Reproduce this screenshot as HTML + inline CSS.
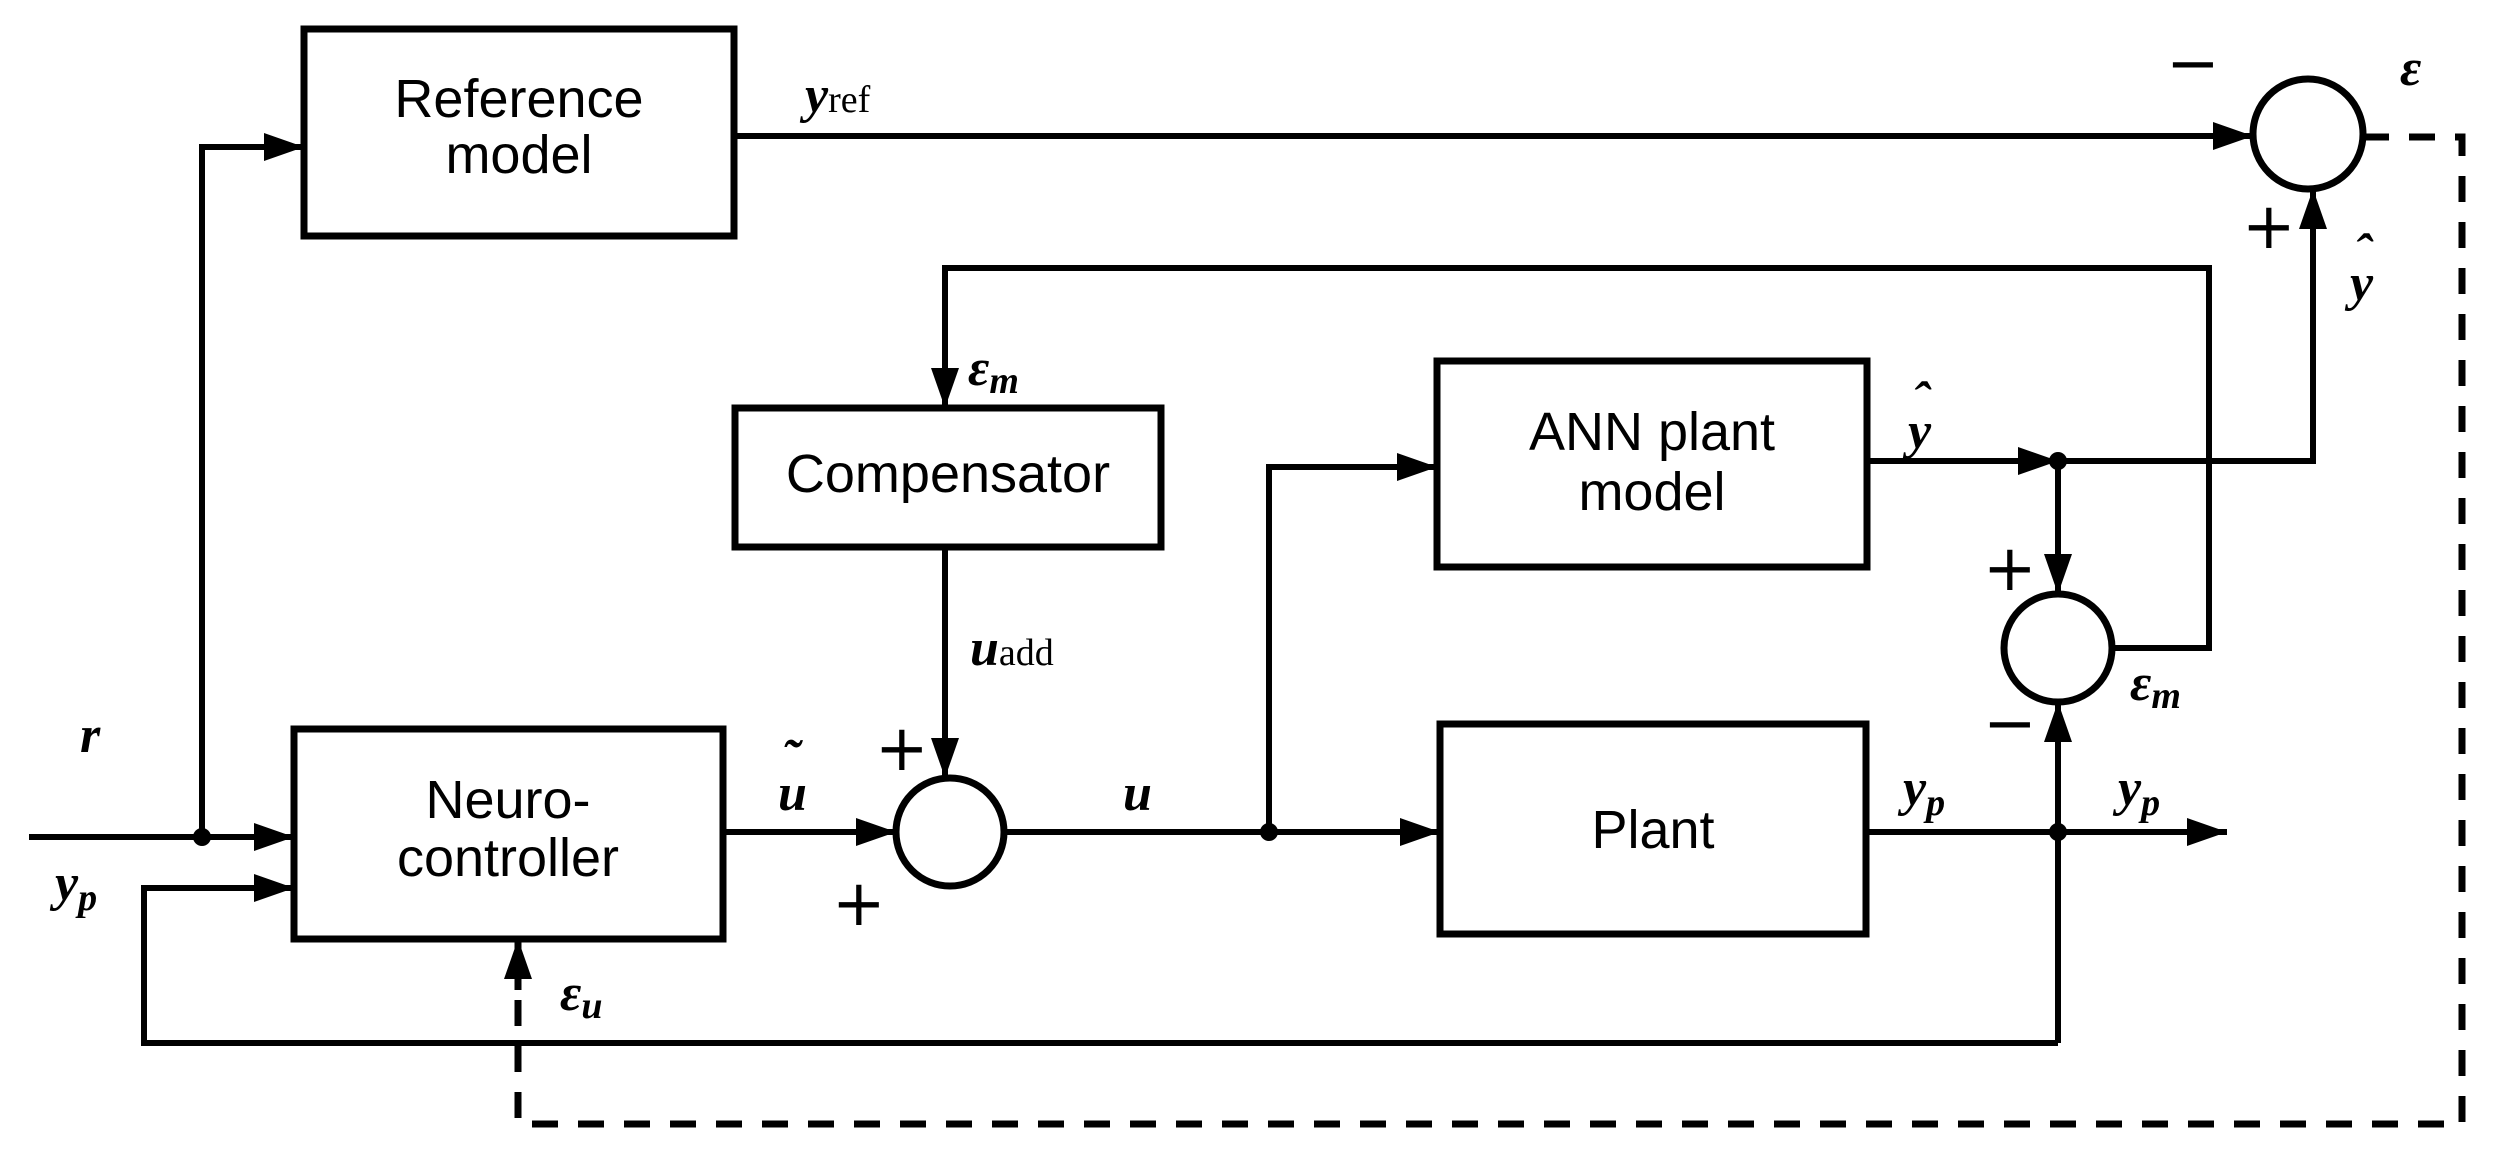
<!DOCTYPE html>
<html><head><meta charset="utf-8"><style>
html,body{margin:0;padding:0;background:#fff;}
svg{display:block;}
.b{font-family:"Liberation Sans",sans-serif;font-size:54px;fill:#000;}
.m{font-family:"Liberation Serif",serif;font-style:italic;font-weight:bold;font-size:52px;fill:#000;}
.s{font-family:"Liberation Serif",serif;font-style:normal;font-weight:normal;font-size:38px;}
.p{font-family:"DejaVu Sans",sans-serif;font-size:64px;fill:#000;}
</style></head><body>
<svg width="2495" height="1153" viewBox="0 0 2495 1153" xmlns="http://www.w3.org/2000/svg">
<defs>
<marker id="A" viewBox="0 0 40 28" refX="40" refY="14" markerWidth="40" markerHeight="28" orient="auto" markerUnits="userSpaceOnUse"><path d="M0,0 L40,14 L0,28z" fill="#000"/></marker></defs>
<g fill="none" stroke="#000" stroke-width="7">
<rect x="304" y="29" width="430" height="207"/>
<rect x="294" y="729" width="429" height="210"/>
<rect x="735" y="408" width="426" height="139"/>
<rect x="1437" y="361" width="430" height="206"/>
<rect x="1440" y="724" width="426" height="210"/>
<circle cx="950" cy="832" r="54"/>
<circle cx="2308" cy="134" r="55"/>
<circle cx="2058" cy="648" r="54"/>
</g>
<g fill="none" stroke="#000" stroke-width="6">
<path d="M29,837 H294" marker-end="url(#A)"/>
<path d="M202,837 V147 H304" marker-end="url(#A)"/>
<path d="M734,136 H2253" marker-end="url(#A)"/>
<path d="M723,832 H896" marker-end="url(#A)"/>
<path d="M945,547 V778" marker-end="url(#A)"/>
<path d="M1002,832 H1440" marker-end="url(#A)"/>
<path d="M1269,832 V467 H1437" marker-end="url(#A)"/>
<path d="M1867,461 H2058" marker-end="url(#A)"/>
<path d="M2058,461 H2313 V189" marker-end="url(#A)"/>
<path d="M2058,461 V594" marker-end="url(#A)"/>
<path d="M2112,648 H2209 V268 H945 V408" marker-end="url(#A)"/>
<path d="M1866,832 H2227" marker-end="url(#A)"/>
<path d="M2058,1043 V702" marker-end="url(#A)"/>
<path d="M2058,1043 H144 V888 H294" marker-end="url(#A)"/>
</g>
<path d="M2363,137 H2462 V1124 H518 V985" fill="none" stroke="#000" stroke-width="7" stroke-dasharray="26,20"/>
<path d="M518,990 V939" fill="none" stroke="#000" stroke-width="7" marker-end="url(#A)"/>
<g fill="#000"><circle cx="202" cy="837" r="9"/><circle cx="1269" cy="832" r="9"/><circle cx="2058" cy="461" r="9"/><circle cx="2058" cy="832" r="9"/></g>
<text class="b" x="519" y="117" text-anchor="middle">Reference</text>
<text class="b" x="519" y="173" text-anchor="middle">model</text>
<text class="b" x="508" y="818" text-anchor="middle">Neuro-</text>
<text class="b" x="508" y="876" text-anchor="middle">controller</text>
<text class="b" x="948" y="492" text-anchor="middle">Compensator</text>
<text class="b" x="1652" y="450" text-anchor="middle">ANN plant</text>
<text class="b" x="1652" y="510" text-anchor="middle">model</text>
<text class="b" x="1653" y="848" text-anchor="middle">Plant</text>
<text class="m" x="805" y="112">y<tspan class="s">ref</tspan></text>
<text class="m" x="80" y="752">r</text>
<text class="m" x="55" y="900">y<tspan font-size="38" dy="10">p</tspan></text>
<text class="m" x="968" y="385">ε<tspan font-size="38" dy="8">m</tspan></text>
<text class="m" x="970" y="665">u<tspan class="s">add</tspan></text>
<text class="m" x="778" y="810">u</text>
<text class="m" x="782" y="775" font-weight="normal">˜</text>
<text class="m" x="1123" y="810">u</text>
<text class="m" x="560" y="1010">ε<tspan font-size="38" dy="8">u</tspan></text>
<text class="m" x="1908" y="448">y</text><text class="m" x="1912" y="418" font-weight="normal">ˆ</text>
<text class="m" x="2350" y="300">y</text><text class="m" x="2354" y="270" font-weight="normal">ˆ</text>
<text class="m" x="2130" y="700">ε<tspan font-size="38" dy="8">m</tspan></text>
<text class="m" x="1903" y="805">y<tspan font-size="38" dy="10">p</tspan></text>
<text class="m" x="2118" y="805">y<tspan font-size="38" dy="10">p</tspan></text>
<text class="m" x="2400" y="85" font-weight="normal">ε</text>
<text class="p" x="875" y="770">+</text>
<text class="p" x="832" y="925">+</text>
<text class="p" x="2166" y="85">−</text>
<text class="p" x="2242" y="248">+</text>
<text class="p" x="1983" y="590">+</text>
<text class="p" x="1983" y="745">−</text>
</svg>
</body></html>
